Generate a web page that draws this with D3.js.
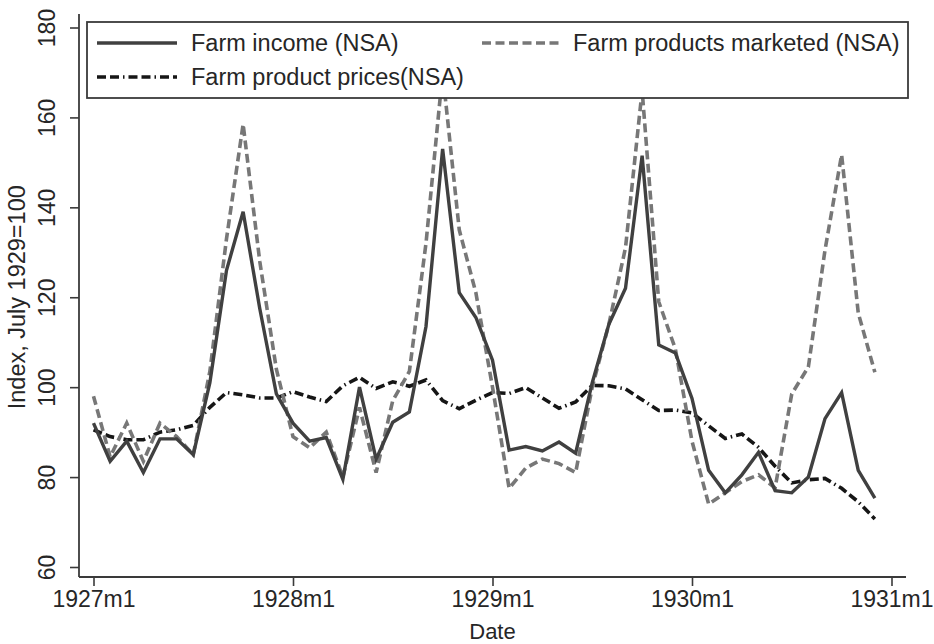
<!DOCTYPE html>
<html>
<head>
<meta charset="utf-8">
<script src="https://cdn.jsdelivr.net/npm/d3@7"></script>
<style>
  html, body { margin: 0; padding: 0; background: #fff; }
  svg { display: block; font-family: "Liberation Sans", Arial, Helvetica, sans-serif; }
</style>
</head>
<body>
<svg id="chart" width="934" height="644"></svg>
<script>
// Monthly index values, July 1929 = 100, January 1927 through December 1930
const months = d3.range(48); // 0 = 1927m1 ... 47 = 1930m12

const farmIncome = [
  92, 83.5, 88, 81, 88.5, 88.5, 85, 101, 126, 139, 117.5, 98.5,
  92, 88, 88.8, 79.5, 100, 84, 92.2, 94.5, 113.5, 153, 121, 115.5,
  106, 86, 86.8, 85.8, 87.8, 85.3, 101, 114, 122, 151.5, 109.4, 107.6,
  97.5, 81.5, 76.5, 80.5, 85.5, 77, 76.5, 80, 93, 98.8, 81.5, 75.3
];

const productsMarketed = [
  98, 84.5, 92, 83.5, 92, 89, 85, 103.5, 133, 158.5, 128, 104,
  89, 86.5, 90, 80, 95.5, 81, 97, 103.5, 132, 170, 135, 121,
  100, 77.5, 82, 84, 83, 81, 100, 114, 131, 166, 119, 108.5,
  88, 74, 76.5, 79, 80.5, 77.6, 98.5, 104.5, 130.5, 151.7, 116.5, 103.3
];

const productPrices = [
  90.5, 89, 88.3, 88.3, 90, 90.5, 91.5, 95.5, 98.8, 98.3, 97.6, 97.6,
  99, 97.8, 96.8, 100.3, 102.2, 99.7, 101.2, 100.2, 101.6, 97, 95.2, 97.1,
  98.8, 98.6, 99.9, 97.6, 95.3, 96.7, 100.4, 100.3, 99.6, 97.2, 94.8, 94.9,
  94.3, 91.4, 88.6, 89.6, 86.6, 82.4, 78.7, 79.4, 79.7, 77.5, 74.5, 70.7
];

const xTickMonths = [0, 12, 24, 36, 48];
const xTickLabels = ["1927m1", "1928m1", "1929m1", "1930m1", "1931m1"];
const yTicks = [60, 80, 100, 120, 140, 160, 180];

const seriesNames = ["Farm income (NSA)", "Farm products marketed (NSA)", "Farm product prices(NSA)"];

const svg = d3.select("#chart");
const fontSize = 23.5;
const tickFont = 23;
const axisColor = "#3a3a3a";
const textColor = "#262626";

const x = d3.scaleLinear().domain([0, 48]).range([93.5, 891.5]);
const y = d3.scaleLinear().domain([60, 180]).range([567, 27.5]);

const plotLeft = 79, plotRight = 906, plotTop = 14, plotBottom = 577;

// Series styles
const styles = [
  { data: farmIncome, color: "#404040", width: 3.4, dash: null },
  { data: productsMarketed, color: "#777777", width: 3.6, dash: "9,4.5" },
  { data: productPrices, color: "#161616", width: 3.6, dash: "9,4,9,4,1.5,4" }
];

const line = d3.line()
  .x((d, i) => x(months[i]))
  .y(d => y(d));

// Draw lines: prices first, then marketed, then income on top
const order = [2, 1, 0];
order.forEach(k => {
  const s = styles[k];
  svg.append("path")
    .datum(s.data)
    .attr("d", line)
    .attr("fill", "none")
    .attr("stroke", s.color)
    .attr("stroke-width", s.width)
    .attr("stroke-linejoin", "miter")
    .attr("stroke-dasharray", s.dash);
});

// Y axis
const yAxis = d3.axisLeft(y).tickValues(yTicks).tickSize(9).tickPadding(0).tickFormat(d3.format("d"));
const gy = svg.append("g").attr("transform", `translate(${plotLeft},0)`).call(yAxis);
gy.select(".domain").remove();
gy.selectAll(".tick line").attr("stroke", axisColor).attr("stroke-width", 1.6);
gy.selectAll(".tick text")
  .attr("fill", textColor)
  .attr("font-size", tickFont)
  .attr("text-anchor", "middle")
  .attr("transform", "translate(-24,0) rotate(-90)")
  .attr("x", 0).attr("dy", 0).attr("y", 0);
svg.append("line")
  .attr("x1", plotLeft).attr("x2", plotLeft)
  .attr("y1", plotTop).attr("y2", plotBottom)
  .attr("stroke", axisColor).attr("stroke-width", 1.8);

// X axis
const xAxis = d3.axisBottom(x).tickValues(xTickMonths).tickSize(9).tickPadding(4)
  .tickFormat((d, i) => xTickLabels[i]);
const gx = svg.append("g").attr("transform", `translate(0,${plotBottom})`).call(xAxis);
gx.select(".domain").remove();
gx.selectAll(".tick line").attr("stroke", axisColor).attr("stroke-width", 1.6);
gx.selectAll(".tick text").attr("fill", textColor).attr("font-size", tickFont).attr("dy", "0.75em");
svg.append("line")
  .attr("x1", plotLeft).attr("x2", plotRight)
  .attr("y1", plotBottom).attr("y2", plotBottom)
  .attr("stroke", axisColor).attr("stroke-width", 1.8);

// Axis titles
svg.append("text")
  .attr("x", x(24)).attr("y", 639)
  .attr("text-anchor", "middle")
  .attr("font-size", 22)
  .attr("fill", textColor)
  .text("Date");
svg.append("text")
  .attr("transform", `translate(25,${y(120)}) rotate(-90)`)
  .attr("text-anchor", "middle")
  .attr("font-size", fontSize)
  .attr("fill", textColor)
  .text("Index, July 1929=100");

// Legend
const legend = svg.append("g");
legend.append("rect")
  .attr("x", 87).attr("y", 22).attr("width", 821).attr("height", 76)
  .attr("fill", "#fff").attr("stroke", axisColor).attr("stroke-width", 1.8);
const legendItems = [
  { k: 0, x1: 97, x2: 177, y: 43, tx: 191 },
  { k: 1, x1: 482, x2: 559, y: 43, tx: 573 },
  { k: 2, x1: 97, x2: 177, y: 77, tx: 191 }
];
legendItems.forEach(it => {
  const s = styles[it.k];
  legend.append("line")
    .attr("x1", it.x1).attr("x2", it.x2).attr("y1", it.y).attr("y2", it.y)
    .attr("stroke", s.color).attr("stroke-width", s.width)
    .attr("stroke-dasharray", s.dash);
  legend.append("text")
    .attr("x", it.tx).attr("y", it.y).attr("dy", "0.35em")
    .attr("font-size", fontSize).attr("fill", textColor)
    .text(seriesNames[it.k]);
});
</script>
</body>
</html>
